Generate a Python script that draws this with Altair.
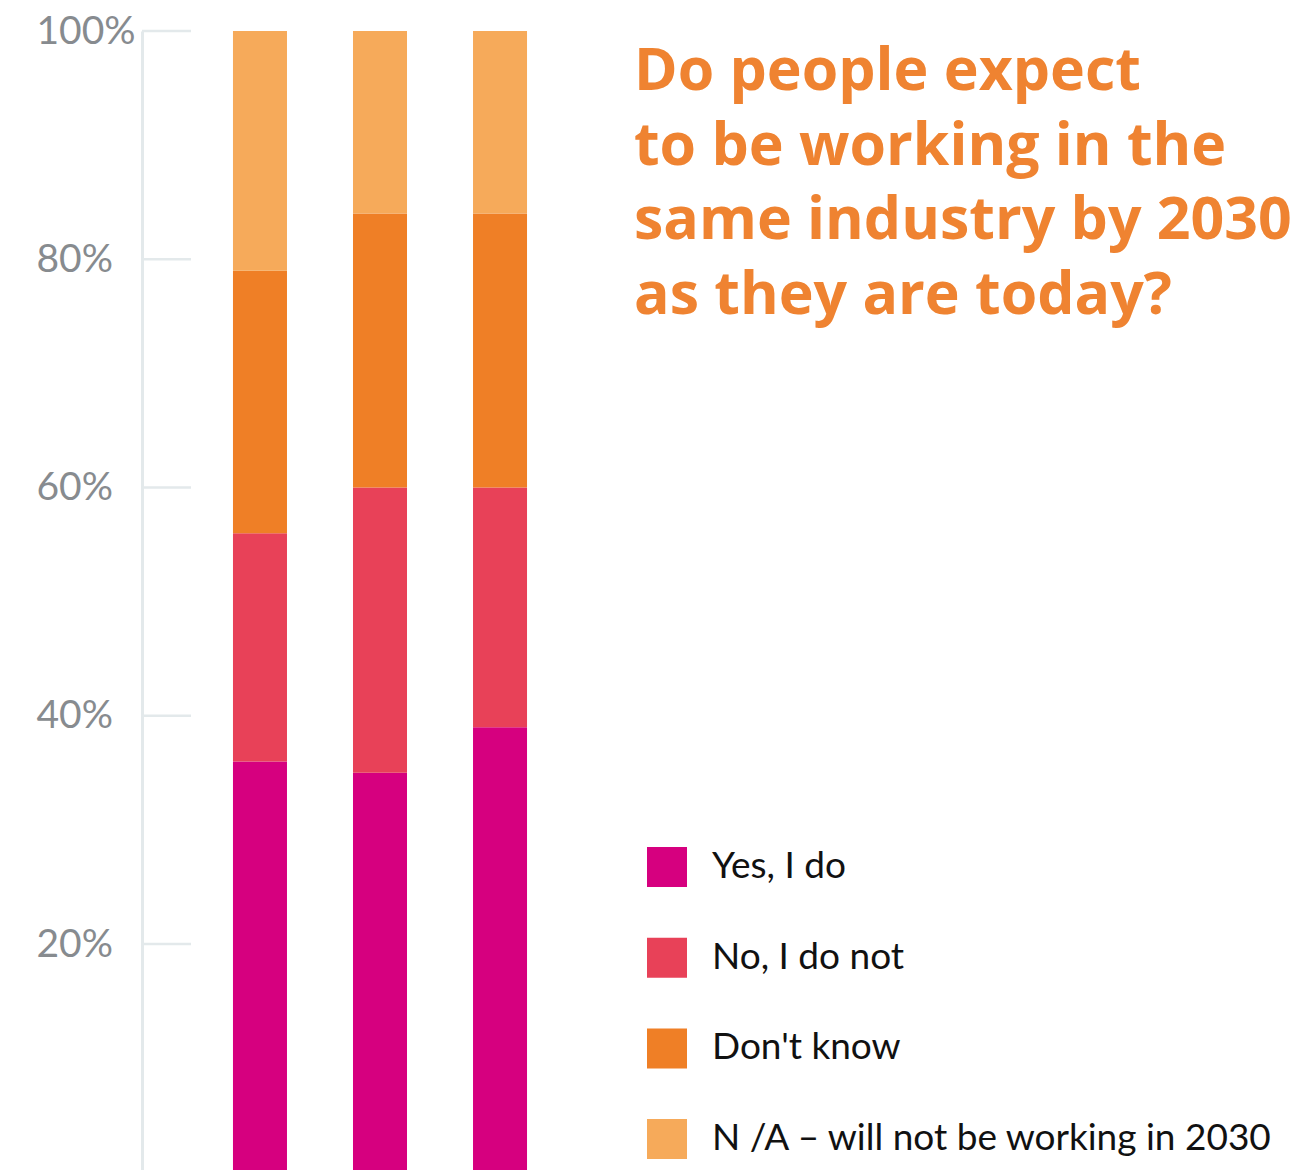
import altair as alt
import pandas as pd

groups = ["Group A", "Group B", "Group C"]
answers = ["Yes, I do", "No, I do not", "Don't know", "N /A – will not be working in 2030"]
colors = ["#d6007f", "#e84158", "#ef7f26", "#f6aa5a"]
yes_vals = [0.36, 0.35, 0.39]
no_vals = [0.20, 0.25, 0.21]
dk_vals = [0.23, 0.24, 0.24]
na_vals = [0.21, 0.16, 0.16]
tick_values = [0.2, 0.4, 0.6, 0.8, 1.0]
title_lines = ["Do people expect", "to be working in the", "same industry by 2030", "as they are today?"]

rows = []
for series, vals in zip(answers, [yes_vals, no_vals, dk_vals, na_vals]):
    for g, v in zip(groups, vals):
        rows.append({"group": g, "answer": series, "value": v, "order": answers.index(series)})
df = pd.DataFrame(rows)

yscale = alt.Scale(domain=[0.002, 1.0], zero=False, nice=False)

bars = alt.Chart(df).mark_bar(clip=True).encode(
    x=alt.X("group:N", sort=groups, axis=None,
            scale=alt.Scale(paddingInner=0.55, paddingOuter=0.758)),
    y=alt.Y("sum(value):Q", stack="zero", scale=yscale,
            axis=alt.Axis(values=tick_values, format=".0%", title=None, ticks=False, tickSize=0,
                          grid=False, domain=True, domainColor="#e3e9eb", domainWidth=3,
                          labelAlign="left", labelPadding=106, labelFont="Lato",
                          labelFontWeight="normal", labelFontSize=39, labelColor="#878b8f")),
    color=alt.Color("answer:N", sort=answers,
                    scale=alt.Scale(domain=answers, range=colors),
                    legend=alt.Legend(orient="none", legendX=505, legendY=816, title=None,
                                      symbolType="square", symbolSize=1600, symbolStrokeWidth=0,
                                      labelFont="Lato", labelFontSize=37, labelColor="#111111",
                                      labelOffset=25, rowPadding=50.7, padding=0,
                                      labelLimit=0)),
    order=alt.Order("order:Q", sort="ascending"),
)

ticks_df = pd.DataFrame({"v": tick_values})
tick_rules = alt.Chart(ticks_df).mark_rule(color="#e3e9eb", strokeWidth=2.5).encode(
    x=alt.value(0), x2=alt.value(49), y=alt.Y("v:Q", scale=yscale)
)

title = alt.Chart(pd.DataFrame({"t": [0]})).mark_text(
    text=title_lines, align="left", baseline="alphabetic", font="Open Sans", fontWeight="bold",
    fontSize=59, lineHeight=74.5, color="#ef8331"
).encode(x=alt.value(492), y=alt.value(59))

chart = alt.layer(tick_rules, bars, title).properties(
    width=476, height=1139,
    autosize=alt.AutoSizeParams(type="none"),
    padding={"left": 142, "top": 31, "right": 694, "bottom": 0},
).configure_view(stroke=None)

chart.save("out.html", embed_options={"renderer": "svg", "actions": False})
